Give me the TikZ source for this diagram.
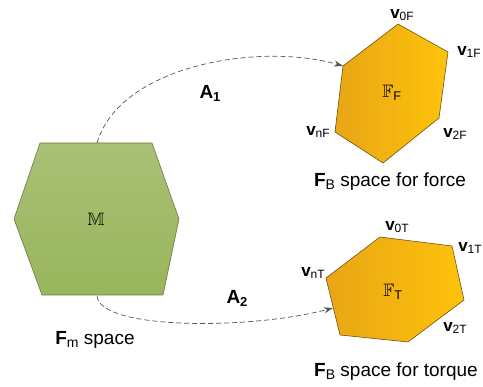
\documentclass[tikz,border=0pt]{standalone}
\usepackage{amssymb}
\usepackage{fontspec}
\setmainfont{Liberation Sans}
\usetikzlibrary{arrows.meta}
\definecolor{gtop}{RGB}{170,192,118}
\definecolor{gbot}{RGB}{152,182,92}
\definecolor{gedge}{RGB}{105,120,75}
\definecolor{oleft}{RGB}{232,166,22}
\definecolor{oright}{RGB}{255,194,10}
\definecolor{oedge}{RGB}{110,80,25}
\definecolor{arr}{RGB}{85,85,85}
\newcommand\vlab[2]{\textbf{#1}{\fontsize{12}{12}\selectfont\raisebox{-2.5pt}{#2}}}
\newcommand\alab[2]{\textbf{#1}{\fontsize{13}{13}\selectfont\raisebox{-3pt}{\textbf{#2}}}}
\newcommand\caplab[3]{\textbf{#1}{\fontsize{14}{14}\selectfont\raisebox{-2.5pt}{#2}}#3}
\tikzset{
  lbl/.style={font=\fontsize{17}{17}\selectfont, inner sep=0pt},
  albl/.style={font=\fontsize{19}{19}\selectfont, inner sep=0pt},
  caplbl/.style={font=\fontsize{19}{19}\selectfont, inner sep=0pt},
  mathlbl/.style={font=\fontsize{18}{18}\selectfont, inner sep=0pt},
  greenhex/.style={draw=gedge, line width=0.6pt, top color=gtop, bottom color=gbot},
  orangehex/.style={draw=oedge, line width=0.6pt, left color=oleft, right color=oright},
  maparrow/.style={draw=arr, line width=0.7pt, dash pattern=on 5pt off 3pt, -{Stealth[length=9pt,width=6pt]}}
}
\begin{document}
\begin{tikzpicture}[x=1pt,y=-1pt]
\useasboundingbox (0,0) rectangle (483,387);
% green hexagon
\draw[greenhex] (40,143) -- (152,143) -- (179,219) -- (163,295) -- (42,295) -- (14,219) -- cycle;
% force hexagon
\draw[orangehex] (398,24) -- (448,52) -- (439,118) -- (383,163) -- (335,132) -- (343,66) -- cycle;
% torque hexagon
\draw[orangehex] (380,237) -- (452,246) -- (464,300) -- (408,342) -- (340,335) -- (326,278) -- cycle;
% anchor coordinates
\coordinate (gT) at (97,143);
\coordinate (gB) at (97,296);
\coordinate (fL) at (343,66);
\coordinate (tL) at (333,308);
% inner labels
\node[mathlbl] (M) at (96,219) {$\mathbb{M}$};
\node[mathlbl] (FF) at (392,93) {$\mathbb{F}_{\mathrm{F}}$};
\node[mathlbl] (FT) at (393,292) {$\mathbb{F}_{\mathrm{T}}$};
% vertex labels
\node[lbl] (v0F) at (402,15) {\vlab{v}{0F}};
\node[lbl] (v1F) at (469,52) {\vlab{v}{1F}};
\node[lbl] (vnF) at (318,132) {\vlab{v}{nF}};
\node[lbl] (v2F) at (455,134) {\vlab{v}{2F}};
\node[lbl] (v0T) at (397,227) {\vlab{v}{0T}};
\node[lbl] (v1T) at (470,248) {\vlab{v}{1T}};
\node[lbl] (vnT) at (313,273) {\vlab{v}{nT}};
\node[lbl] (v2T) at (455,328) {\vlab{v}{2T}};
% mapping arrows
\draw[maparrow] (gT) .. controls (120,65) and (260,42) .. (fL);
\draw[maparrow] (gB) .. controls (100,330) and (250,330) .. (tL);
\node[albl] (A1) at (210,93) {\alab{A}{1}};
\node[albl] (A2) at (237,298) {\alab{A}{2}};
% captions
\node[caplbl] (capm) at (95,340) {\caplab{F}{m}{ space}};
\node[caplbl] (capf) at (390,182) {\caplab{F}{B}{ space for force}};
\node[caplbl] (capt) at (396,372) {\caplab{F}{B}{ space for torque}};
\end{tikzpicture}
\end{document}
